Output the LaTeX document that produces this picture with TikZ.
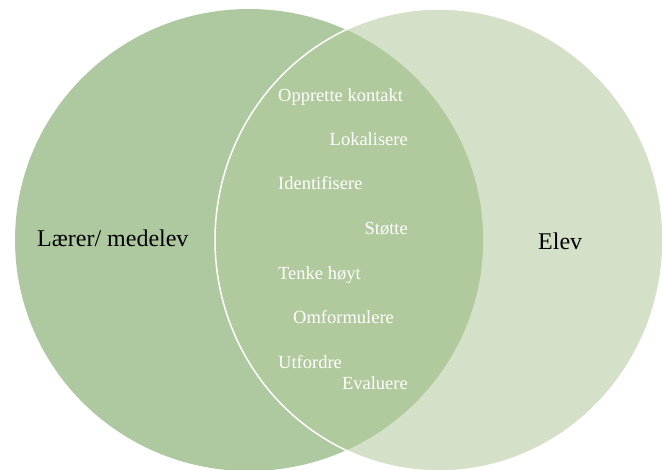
\documentclass[tikz,border=0pt]{standalone}
\usepackage{fontspec}
\setmainfont{Liberation Serif}
\definecolor{laerergreen}{HTML}{AEC9A0}
\definecolor{elevgreen}{HTML}{D5E0C9}
\definecolor{bothgreen}{HTML}{B0CA9E}
\begin{document}
\begin{tikzpicture}[x=1pt, y=-1pt]
      \tikzstyle{every node}=[inner sep=0pt, text=white, font=\fontsize{18.5}{22}\selectfont]
      \tikzstyle{side}=[text=black, font=\fontsize{24}{28}\selectfont]
      \useasboundingbox (0,0) rectangle (663,469);
      \clip (0,0) rectangle (663,469);

      \fill [elevgreen] (439,240) ellipse [x radius=224, y radius=231];
      \fill [laerergreen] (249,240) ellipse [x radius=234, y radius=231];
      \begin{scope}
        \clip (249,240) ellipse [x radius=234, y radius=231];
        \fill [bothgreen] (439,240) ellipse [x radius=224, y radius=231];
      \end{scope}
      \draw [white, line width=1.5pt] (439,240) ellipse [x radius=224, y radius=231];

      \path (37,246) node [side, anchor=base west] (laerer) {Lærer/ medelev};
      \path (538,249) node [side, anchor=base west] (elev) {Elev};

      \foreach \n/\a/\x/\y/\t in {kontakt/west/278/101/Opprette kontakt,
        lokalisere/east/408/145/Lokalisere,
        identifisere/west/278/189/Identifisere,
        stotte/east/408/234/Støtte,
        tenke/west/278/279/Tenke høyt,
        omformulere/west/293/323/Omformulere,
        utfordre/west/278/368/Utfordre,
        evaluere/east/408/389/Evaluere}
      {
        \path (\x,\y) node [anchor=base \a] (\n) {\t};
      }
    \end{tikzpicture}
\end{document}
